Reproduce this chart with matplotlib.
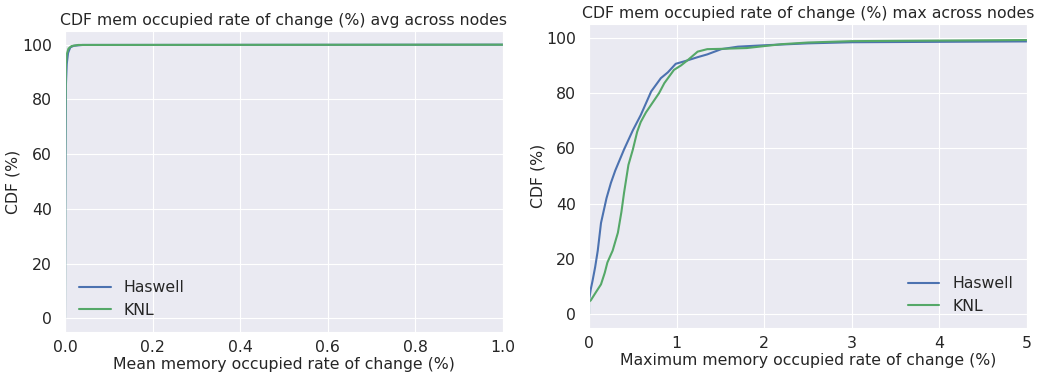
import matplotlib
matplotlib.use("Agg")
import matplotlib.pyplot as plt
import seaborn as sns

sns.set_style("darkgrid")
plt.rcParams['font.family'] = ['DejaVu Sans']

# avg across nodes (x in %, CDF in %)
avg_haswell_x = [0, 0.0005, 0.001, 0.002, 0.004, 0.007, 0.012, 0.02, 0.04, 1.0]
avg_haswell_y = [0, 40, 60, 85, 93, 97, 99, 99.6, 99.9, 100]
avg_knl_x = [0, 0.0005, 0.001, 0.002, 0.004, 0.008, 0.015, 0.03, 1.0]
avg_knl_y = [0, 55, 75, 92, 96.5, 98.6, 99.5, 99.9, 100]

# max across nodes
max_haswell_x = [0, 0.0, 0.02, 0.04, 0.07, 0.1, 0.137, 0.2, 0.25, 0.3, 0.4, 0.5,
                 0.59, 0.71, 0.82, 0.9, 0.99, 1.1, 1.24, 1.35, 1.51, 1.7, 2.0,
                 2.5, 3.0, 5.0]
max_haswell_y = [0, 5, 9, 12, 17, 23, 33, 42, 47.5, 52, 59.6, 66.5,
                 72, 80.6, 85.4, 87.5, 90.6, 91.6, 93, 94, 95.9, 96.8, 97.3,
                 98, 98.4, 98.7]
max_knl_x = [0, 0.0, 0.02, 0.08, 0.137, 0.18, 0.21, 0.27, 0.33, 0.37, 0.4, 0.45,
             0.5, 0.55, 0.59, 0.65, 0.71, 0.8, 0.86, 0.97, 1.05, 1.13, 1.24,
             1.35, 1.5, 1.8, 2.0, 2.2, 2.5, 3.0, 5.0]
max_knl_y = [0, 4.5, 5, 8, 10.8, 15, 18.7, 23, 29.5, 37, 43.9, 54,
             59.5, 66, 69.5, 73, 75.8, 80, 83.6, 88.4, 90, 92, 95,
             95.9, 96, 96.3, 97, 97.7, 98.3, 98.8, 99.2]

blue = "#4C72B0"
green = "#55A868"
fs = 11.3

fig = plt.figure(figsize=(10.5, 3.78), dpi=100)
W, H = 1050.0, 378.0
ax1 = fig.add_axes([65 / W, 1 - 332 / H, (503 - 65) / W, (332 - 31) / H])
ax2 = fig.add_axes([589 / W, 1 - 328 / H, (1027 - 589) / W, (328 - 24) / H])

ax1.plot(avg_haswell_x, avg_haswell_y, color=blue, lw=1.5, label="Haswell")
ax1.plot(avg_knl_x, avg_knl_y, color=green, lw=1.5, label="KNL")
ax1.set_xlim(0, 1.0)
ax1.set_ylim(-5, 105)
ax1.set_title("CDF mem occupied rate of change (%) avg across nodes", fontsize=fs, pad=4)
ax1.set_xlabel("Mean memory occupied rate of change (%)", fontsize=fs, labelpad=1)
ax1.set_ylabel("CDF (%)", fontsize=fs, labelpad=1)
ax1.legend(loc="lower left", fontsize=fs, frameon=False)

ax2.plot(max_haswell_x, max_haswell_y, color=blue, lw=1.5, label="Haswell")
ax2.plot(max_knl_x, max_knl_y, color=green, lw=1.5, label="KNL")
ax2.set_xlim(0, 5)
ax2.set_ylim(-5, 105)
ax2.set_title("CDF mem occupied rate of change (%) max across nodes", fontsize=fs, pad=4)
ax2.set_xlabel("Maximum memory occupied rate of change (%)", fontsize=fs, labelpad=1)
ax2.set_ylabel("CDF (%)", fontsize=fs, labelpad=0.5)
ax2.legend(loc="lower right", fontsize=fs, frameon=False)

for ax in (ax1, ax2):
    ax.tick_params(axis="y", labelsize=fs, pad=6)
    ax.tick_params(axis="x", labelsize=fs, pad=2.5)

fig.savefig("out.png")
